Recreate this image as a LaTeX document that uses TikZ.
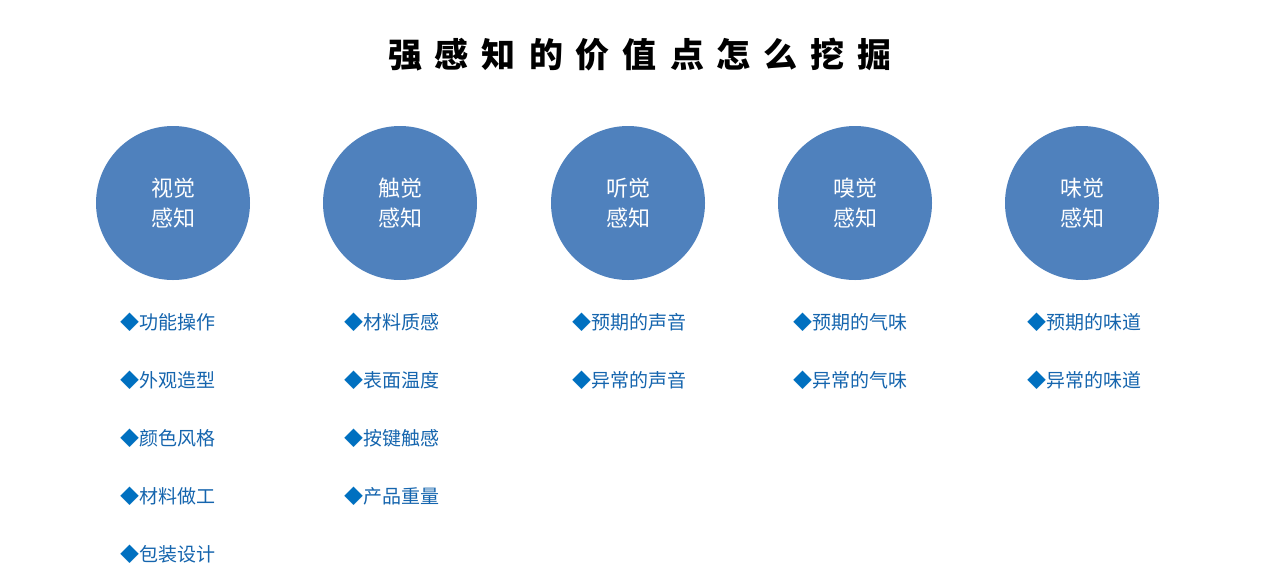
\documentclass[tikz,border=0pt]{standalone}
\usepackage{fontspec}
\setmainfont{Noto Sans CJK SC}
\definecolor{circ}{HTML}{4F81BD}
\definecolor{itemc}{HTML}{1565AE}
\definecolor{diam}{HTML}{0070C0}
\newcommand{\itm}[1]{{\color{diam}◆}#1}
\begin{document}
\begin{tikzpicture}[x=1pt,y=-1pt,
  senscircle/.style={circle,fill=circ,minimum size=154pt,inner sep=0pt,text=white,
     font=\fontsize{22}{30}\selectfont,align=center},
  item/.style={anchor=west,text=itemc,font=\fontsize{19}{19}\selectfont,inner sep=0pt}]
\useasboundingbox[fill=white] (0,0) rectangle (1269,587);
\node[font=\fontsize{34}{34}\selectfont\bfseries] (title) at (640,55)
  {强\kern13pt 感\kern13pt 知\kern13pt 的\kern13pt 价\kern13pt 值\kern13pt 点\kern13pt 怎\kern13pt 么\kern13pt 挖\kern13pt 掘};
\node[senscircle] (c1) at (173,203) {视觉\\感知};
\node[senscircle] (c2) at (400,203) {触觉\\感知};
\node[senscircle] (c3) at (628,203) {听觉\\感知};
\node[senscircle] (c4) at (855,203) {嗅觉\\感知};
\node[senscircle] (c5) at (1082,203) {味觉\\感知};
\node[item] (a1) at (120,322) {\itm{功能操作}};
\node[item] (a2) at (120,380) {\itm{外观造型}};
\node[item] (a3) at (120,438) {\itm{颜色风格}};
\node[item] (a4) at (120,496) {\itm{材料做工}};
\node[item] (a5) at (120,554) {\itm{包装设计}};
\node[item] (b1) at (344,322) {\itm{材料质感}};
\node[item] (b2) at (344,380) {\itm{表面温度}};
\node[item] (b3) at (344,438) {\itm{按键触感}};
\node[item] (b4) at (344,496) {\itm{产品重量}};
\node[item] (d1) at (572,322) {\itm{预期的声音}};
\node[item] (d2) at (572,380) {\itm{异常的声音}};
\node[item] (e1) at (793,322) {\itm{预期的气味}};
\node[item] (e2) at (793,380) {\itm{异常的气味}};
\node[item] (f1) at (1027,322) {\itm{预期的味道}};
\node[item] (f2) at (1027,380) {\itm{异常的味道}};
\end{tikzpicture}
\end{document}
